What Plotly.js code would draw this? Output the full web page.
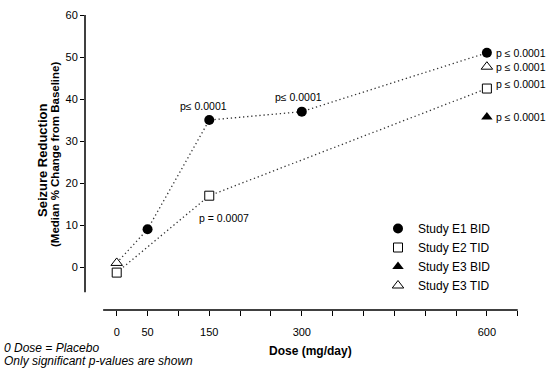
<!DOCTYPE html>
<html>
<head>
<meta charset="utf-8">
<script src="https://cdn.plot.ly/plotly-3.0.1.min.js"></script>
<style>html,body{margin:0;padding:0;background:#fff;}#chart{width:559px;height:376px;}</style>
</head>
<body>
<div id="chart"></div>
<script>
// ---- data ----
const e1Dose = [0, 50, 150, 300, 600];
const e1Val  = [1, 9, 35, 37, 51];
const e2Dose = [0, 150, 600];
const e2Val  = [-1.3, 17, 42.5];
const e3bidDose = [600];
const e3bidVal  = [35.7];
const e3tidDose = [0, 600];
const e3tidVal  = [1, 47.7];
const seriesNames = ["Study E1 BID", "Study E2 TID", "Study E3 BID", "Study E3 TID"];
const xTickVals = [0, 50, 100, 150, 200, 250, 300, 350, 400, 450, 500, 550, 600, 650];
const xTickText = ["0", "50", "", "150", "", "", "300", "", "", "", "", "", "600", ""];
const yTickVals = [0, 10, 20, 30, 40, 50, 60];
const pLabels = {
  e1_150: "p\u2264 0.0001",
  e1_300: "p\u2264 0.0001",
  e2_150: "p = 0.0007",
  e1_600: "p \u2264 0.0001",
  e3tid_600: "p \u2264 0.0001",
  e2_600: "p \u2264 0.0001",
  e3bid_600: "p \u2264 0.0001"
};

const FONT = "Liberation Sans, Arial, sans-serif";
const dotLine = {color: "#333", width: 1.3, dash: "1.3px,2.8px"};

const traces = [
  {x: e1Dose, y: e1Val, mode: "lines", line: dotLine, showlegend: false, hoverinfo: "skip"},
  {x: e2Dose, y: e2Val, mode: "lines", line: dotLine, showlegend: false, hoverinfo: "skip"},
  {x: e1Dose.slice(1), y: e1Val.slice(1), mode: "markers", name: seriesNames[0],
   marker: {symbol: "circle", size: 10, color: "#000"}},
  {x: e2Dose, y: e2Val, mode: "markers", name: seriesNames[1],
   marker: {symbol: "square", size: 9, color: "#fff", line: {color: "#000", width: 1}}},
  {x: e3bidDose, y: e3bidVal, mode: "markers", name: seriesNames[2],
   marker: {symbol: "triangle-up", size: 10, color: "#000"}},
  {x: e3tidDose, y: e3tidVal, mode: "markers", name: seriesNames[3],
   marker: {symbol: "triangle-up", size: 10, color: "#fff", line: {color: "#000", width: 1}}}
];

const L = 85, R = 550, T = 15, B = 310;
const px2x = p => (p - L) / (R - L);
const px2y = p => (B - p) / (B - T);

const pFont = {family: FONT, size: 10.5, color: "#000"};
const annotations = [
  {x: 150, y: e1Val[2], text: pLabels.e1_150, xshift: -6, yshift: 14},
  {x: 300, y: e1Val[3], text: pLabels.e1_300, xshift: -3, yshift: 15},
  {x: 150, y: e2Val[1], text: pLabels.e2_150, xshift: 15, yshift: -22},
  {x: 600, y: e1Val[4], text: pLabels.e1_600, xanchor: "left", xshift: 7, yshift: 0},
  {x: 600, y: e3tidVal[1], text: pLabels.e3tid_600, xanchor: "left", xshift: 7, yshift: 0},
  {x: 600, y: e2Val[2], text: pLabels.e2_600, xanchor: "left", xshift: 7, yshift: 5},
  {x: 600, y: e3bidVal[0], text: pLabels.e3bid_600, xanchor: "left", xshift: 7, yshift: 0}
].map(a => Object.assign({xref: "x", yref: "y", showarrow: false, font: pFont, xanchor: "center", yanchor: "middle"}, a));

annotations.push(
  {xref: "paper", yref: "paper", x: px2x(42), y: px2y(161), text: "<b>Seizure Reduction</b>",
   textangle: -90, showarrow: false, xanchor: "center", yanchor: "middle",
   font: {family: FONT, size: 13, color: "#000"}},
  {xref: "paper", yref: "paper", x: px2x(55), y: px2y(155), text: "<b>(Median % Change from Baseline)</b>",
   textangle: -90, showarrow: false, xanchor: "center", yanchor: "middle",
   font: {family: FONT, size: 11.5, color: "#000"}},
  {xref: "paper", yref: "paper", x: px2x(310), y: px2y(351), text: "<b>Dose (mg/day)</b>",
   showarrow: false, xanchor: "center", yanchor: "middle",
   font: {family: FONT, size: 12, color: "#000"}},
  {xref: "paper", yref: "paper", x: px2x(2), y: px2y(348), text: "<i>0 Dose = Placebo</i>",
   showarrow: false, xanchor: "left", yanchor: "middle",
   font: {family: FONT, size: 12, color: "#000"}},
  {xref: "paper", yref: "paper", x: px2x(2), y: px2y(361), text: "<i>Only significant p-values are shown</i>",
   showarrow: false, xanchor: "left", yanchor: "middle",
   font: {family: FONT, size: 12, color: "#000"}}
);

const layout = {
  width: 559, height: 376,
  margin: {l: L, r: 559 - R, t: T, b: 376 - B, pad: 0},
  paper_bgcolor: "#fff", plot_bgcolor: "#fff",
  showlegend: true,
  legend: {x: px2x(378), y: px2y(214), xanchor: "left", yanchor: "top",
           font: {family: FONT, size: 12, color: "#000"}, bgcolor: "rgba(0,0,0,0)",
           tracegroupgap: 0},
  xaxis: {range: [-51.4, 702.3], showline: false, zeroline: false, showgrid: false,
          tickmode: "array", tickvals: xTickVals, ticktext: xTickText,
          ticks: "outside", ticklen: 5, tickcolor: "#000", tickwidth: 1,
          ticklabelstandoff: 7,
          tickfont: {family: FONT, size: 11, color: "#000"}},
  yaxis: {range: [-10.2, 60], showline: false, zeroline: false, showgrid: false,
          tickmode: "array", tickvals: yTickVals,
          ticks: "outside", ticklen: 4, tickcolor: "#000", tickwidth: 1,
          tickfont: {family: FONT, size: 11, color: "#000"}},
  shapes: [
    {type: "line", xref: "paper", yref: "y", x0: 0, x1: 0, y0: -6, y1: 60, line: {color: "#000", width: 1.5}},
    {type: "line", xref: "x", yref: "paper", x0: -22, x1: 650, y0: 0, y1: 0, line: {color: "#000", width: 1.5}}
  ],
  annotations: annotations
};

Plotly.newPlot("chart", traces, layout, {staticPlot: true, displayModeBar: false});
</script>
</body>
</html>
